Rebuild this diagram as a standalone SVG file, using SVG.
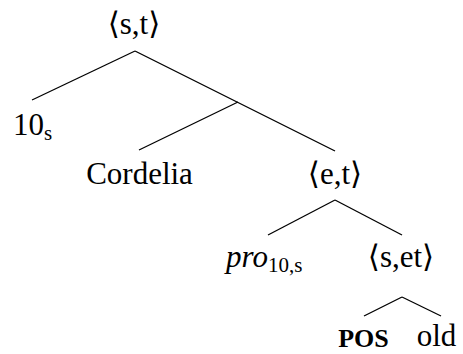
<svg xmlns="http://www.w3.org/2000/svg" width="463" height="354" viewBox="0 0 463 354">
<style>
text{font-family:'Liberation Serif','DejaVu Serif',serif;font-size:31px;fill:#000}
.m{text-anchor:middle}
.sub{font-size:21px}
.it{font-style:italic}
.sc{font-weight:bold;font-size:26px}
line{stroke:#000;stroke-width:1.3}
</style>
<rect width="463" height="354" fill="#fff"/>
<g id="connectors">
<line x1="135" y1="51" x2="32" y2="100"/>
<line x1="135" y1="51" x2="335" y2="151"/>
<line x1="238" y1="102" x2="139" y2="150"/>
<line x1="335" y1="200" x2="268" y2="235"/>
<line x1="335" y1="200" x2="402" y2="235"/>
<line x1="402" y1="297" x2="364" y2="316"/>
<line x1="402" y1="297" x2="441" y2="316"/>
</g>
<g id="n-root"><text class="m" x="134" y="34">⟨s,t⟩</text></g>
<g id="n-10s"><text x="13" y="135">10<tspan class="sub" dy="5">s</tspan></text></g>
<g id="n-cordelia"><text class="m" x="139.5" y="184">Cordelia</text></g>
<g id="n-et"><text class="m" x="335" y="184">⟨e,t⟩</text></g>
<g id="n-pro"><text x="226" y="267"><tspan class="it">pro</tspan><tspan class="sub" dy="5">10,s</tspan></text></g>
<g id="n-set"><text class="m" x="401" y="267">⟨s,et⟩</text></g>
<g id="n-pos"><text class="m sc" x="363.5" y="347">POS</text></g>
<g id="n-old"><text class="m" x="436.5" y="346">old</text></g>
</svg>
